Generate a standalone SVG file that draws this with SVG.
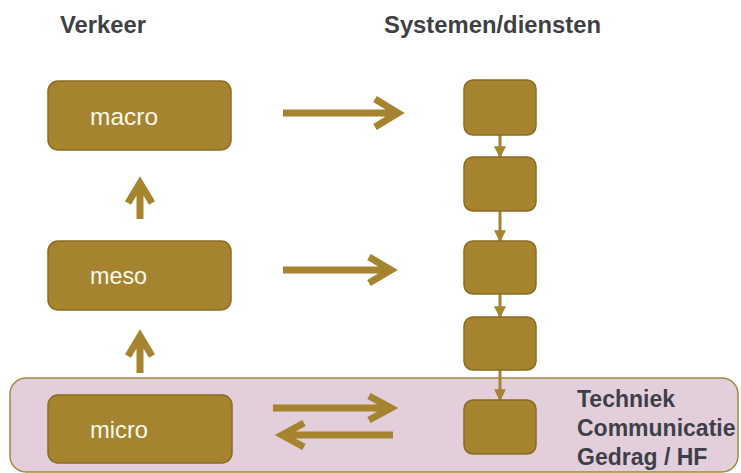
<svg xmlns="http://www.w3.org/2000/svg" width="741" height="473" viewBox="0 0 741 473">
<defs>
<style>
.box{fill:#a5832f;stroke:#8a6c22;stroke-width:1.5}
.lbl{font-family:"Liberation Sans",Arial,sans-serif;font-size:24px;fill:#fbf8ec}
.hdr{font-family:"Liberation Sans",Arial,sans-serif;font-size:23px;font-weight:bold;fill:#3f3f44}
.side{font-family:"Liberation Sans",Arial,sans-serif;font-size:23px;font-weight:bold;fill:#3f3f4a}
.big{fill:none;stroke:#a5832f;stroke-width:7}
.thin{fill:none;stroke:#a5832f;stroke-width:3}
</style>
<marker id="tri" viewBox="0 0 10 10" refX="9" refY="5" markerWidth="4" markerHeight="4" orient="auto" markerUnits="strokeWidth">
<path d="M0,0 L10,5 L0,10 Z" fill="#a5832f"/>
</marker>
</defs>
<rect width="741" height="473" fill="#ffffff"/>
<g id="band">
<rect x="10" y="378" width="728" height="94" rx="16" fill="#e2cfdb" stroke="#a08a3a" stroke-width="1.5"/>
</g>
<text class="hdr" x="60" y="33" textLength="86" lengthAdjust="spacingAndGlyphs">Verkeer</text>
<text class="hdr" x="384" y="33" textLength="217" lengthAdjust="spacingAndGlyphs">Systemen/diensten</text>
<g id="connectors">
<line class="thin" x1="500" y1="135" x2="500" y2="157" marker-end="url(#tri)"/>
<line class="thin" x1="500" y1="211" x2="500" y2="241" marker-end="url(#tri)"/>
<line class="thin" x1="500" y1="294" x2="500" y2="317" marker-end="url(#tri)"/>
<line class="thin" x1="500" y1="370" x2="500" y2="400" marker-end="url(#tri)"/>
<g class="big">
<path d="M283,113 H398 M375,99 L398,113 L375,127"/>
<path d="M283,270 H391 M369,257 L391,270 L369,283"/>
<path d="M273,408 H391 M369,396 L391,408 L369,420"/>
<path d="M393,435 H282 M304,423 L282,435 L304,447"/>
<path d="M140,219 V183 M128,203 L140,183 L152,203"/>
<path d="M140,373 V336 M128,356 L140,336 L152,356"/>
</g>
</g>
<g id="macro"><rect class="box" x="48" y="81" width="183" height="69" rx="10"/><text class="lbl" x="90" y="125" textLength="68" lengthAdjust="spacingAndGlyphs">macro</text></g>
<g id="meso"><rect class="box" x="48" y="241" width="183" height="69" rx="10"/><text class="lbl" x="90" y="284" textLength="57" lengthAdjust="spacingAndGlyphs">meso</text></g>
<g id="micro"><rect class="box" x="48" y="395" width="184" height="68" rx="10"/><text class="lbl" x="90" y="438" textLength="58" lengthAdjust="spacingAndGlyphs">micro</text></g>
<g id="s1"><rect class="box" x="464" y="80" width="72" height="55" rx="9"/></g>
<g id="s2"><rect class="box" x="464" y="157" width="72" height="54" rx="9"/></g>
<g id="s3"><rect class="box" x="464" y="241" width="72" height="53" rx="9"/></g>
<g id="s4"><rect class="box" x="464" y="317" width="72" height="53" rx="9"/></g>
<g id="s5"><rect class="box" x="464" y="400" width="72" height="54" rx="9"/></g>
<g id="labels">
<text class="side" x="577" y="407">Techniek</text>
<text class="side" x="577" y="436">Communicatie</text>
<text class="side" x="577" y="465">Gedrag / HF</text>
</g>
</svg>
